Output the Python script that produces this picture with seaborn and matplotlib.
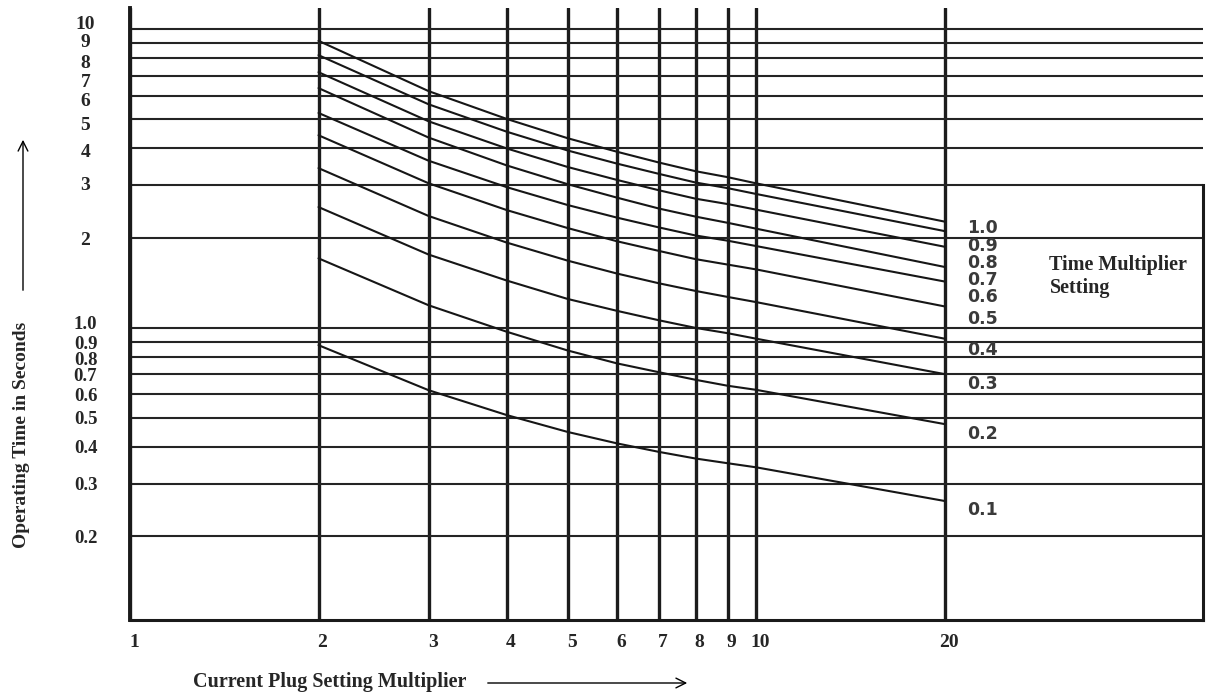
import matplotlib
matplotlib.use("Agg")
import matplotlib.pyplot as plt
import matplotlib.transforms as mtransforms
from matplotlib.ticker import NullLocator
import pandas as pd
import seaborn as sns

# plug setting multiplier where the curves were read (the vertical rulings)
psm = [2, 3, 4, 5, 6, 7, 8, 9, 10, 20]

# operating time in seconds for each time multiplier setting
tms_1_0 = [9.16, 6.21, 5.01, 4.32, 3.89, 3.58, 3.35, 3.20, 3.05, 2.27]
tms_0_9 = [8.20, 5.61, 4.54, 3.93, 3.55, 3.28, 3.07, 2.94, 2.81, 2.11]
tms_0_8 = [7.19, 4.92, 3.99, 3.46, 3.13, 2.89, 2.71, 2.60, 2.49, 1.87]
tms_0_7 = [6.36, 4.34, 3.50, 3.03, 2.73, 2.51, 2.36, 2.25, 2.15, 1.60]
tms_0_6 = [5.25, 3.63, 2.96, 2.58, 2.34, 2.17, 2.04, 1.96, 1.88, 1.43]
tms_0_5 = [4.42, 3.05, 2.48, 2.16, 1.95, 1.81, 1.70, 1.63, 1.57, 1.18]
tms_0_4 = [3.43, 2.37, 1.93, 1.68, 1.52, 1.41, 1.33, 1.27, 1.22, 0.92]
tms_0_3 = [2.54, 1.76, 1.44, 1.25, 1.14, 1.06, 1.00, 0.96, 0.92, 0.70]
tms_0_2 = [1.71, 1.19, 0.97, 0.84, 0.76, 0.71, 0.67, 0.64, 0.62, 0.476]
tms_0_1 = [0.875, 0.618, 0.51, 0.448, 0.41, 0.384, 0.365, 0.352, 0.341, 0.263]

tms_names = ["1.0", "0.9", "0.8", "0.7", "0.6", "0.5", "0.4", "0.3", "0.2", "0.1"]
tms_series = [tms_1_0, tms_0_9, tms_0_8, tms_0_7, tms_0_6,
              tms_0_5, tms_0_4, tms_0_3, tms_0_2, tms_0_1]

x_ticks = [1, 2, 3, 4, 5, 6, 7, 8, 9, 10, 20]
x_tick_labels = ["1", "2", "3", "4", "5", "6", "7", "8", "9", "10", "20"]
y_ticks = [0.2, 0.3, 0.4, 0.5, 0.6, 0.7, 0.8, 0.9, 1, 2, 3, 4, 5, 6, 7, 8, 9, 10]
y_tick_labels = ["0.2", "0.3", "0.4", "0.5", "0.6", "0.7", "0.8", "0.9", "1.0",
                 "2", "3", "4", "5", "6", "7", "8", "9", "10"]

# small vertical nudges (pixels, + is up) so the crowded labels spread like the original
y_label_nudge = {"10": 7, "9": 3, "8": -3, "7": -5, "6": -4, "5": -4, "4": -2,
                 "3": 2, "1.0": 5, "0.9": -1, "0.8": -2, "0.7": 0}

# where the curve names sit, to the right of the 20 ruling
label_y = [2.16, 1.88, 1.65, 1.445, 1.267, 1.07, 0.84, 0.65, 0.44, 0.245]


def build_frame():
    rows = []
    for name, times in zip(tms_names, tms_series):
        for x, t in zip(psm, times):
            rows.append({"psm": x, "time": t, "tms": name})
    return pd.DataFrame(rows)


def main():
    sns.set_style("white")
    plt.rcParams["font.family"] = ["Liberation Serif", "DejaVu Serif"]

    df = build_frame()

    fig = plt.figure(figsize=(12.06, 6.96), dpi=100)
    ax = fig.add_axes([130 / 1206, 1 - 620 / 696, (1203 - 130) / 1206, (620 - 8) / 696])

    sns.lineplot(data=df, x="psm", y="time", hue="tms", hue_order=tms_names,
                 palette=["#161616"] * len(tms_names), estimator=None,
                 legend=False, lw=1.5, ax=ax)

    ax.set_xscale("log")
    ax.set_yscale("log")
    ax.set_xlim(1, 51.7)
    ax.set_ylim(0.105, 11.8)

    ax.set_xticks(x_ticks, x_tick_labels)
    ax.set_yticks(y_ticks, y_tick_labels)
    ax.xaxis.set_minor_locator(NullLocator())
    ax.yaxis.set_minor_locator(NullLocator())

    ax.set_axisbelow(True)
    ax.grid(axis="x", color="#1c1c1c", lw=2.4)
    ax.grid(axis="y", color="#242424", lw=1.5)

    ax.tick_params(axis="x", length=0, pad=10, labelsize=14)
    ax.tick_params(axis="y", length=0, pad=32, labelsize=14)
    offset = mtransforms.ScaledTranslation(0.04, 0, fig.dpi_scale_trans)
    for lbl in ax.get_xticklabels():
        lbl.set_fontweight("bold")
        lbl.set_transform(lbl.get_transform() + offset)
    for lbl in ax.get_yticklabels():
        lbl.set_fontweight("bold")
        lbl.set_horizontalalignment("center")
        txt = lbl.get_text()
        if "." in txt:
            lbl.set_fontsize(13.5)
        dy = y_label_nudge.get(txt, 0)
        if dy:
            lbl.set_transform(lbl.get_transform()
                              + mtransforms.ScaledTranslation(0, dy / 100, fig.dpi_scale_trans))

    ax.set_xlabel("")
    ax.set_ylabel("")

    ax.spines["top"].set_visible(False)
    ax.spines["left"].set_linewidth(2.8)
    ax.spines["bottom"].set_linewidth(2.2)
    ax.spines["right"].set_linewidth(2.2)
    ax.spines["right"].set_bounds(0.105, 3)
    for s in ["left", "bottom", "right"]:
        ax.spines[s].set_color("#1a1a1a")

    # curve names
    for name, y in zip(tms_names, label_y):
        ax.text(21.7, y, name, ha="left", va="center", fontsize=12.5,
                fontweight="bold", color="#3a3a3a", family="DejaVu Sans")

    ax.text(29.4, 1.49, "Time Multiplier\nSetting", ha="left", va="center",
            fontsize=14.5, fontweight="bold", linespacing=1.2)

    # axis titles with hand drawn arrows
    fig.text(193 / 1206, 1 - 682 / 696, "Current Plug Setting Multiplier",
             ha="left", va="center", fontsize=14.5, fontweight="bold")
    fig.text(22 / 1206, 1 - 435 / 696, "Operating Time in Seconds", rotation=90,
             ha="center", va="center", fontsize=14, fontweight="bold")

    arrow = dict(arrowstyle="->,head_length=0.7,head_width=0.35", lw=1.0, color="black")
    ax.annotate("", xy=(690 / 1206, 1 - 683 / 696), xytext=(485 / 1206, 1 - 683 / 696),
                xycoords="figure fraction", textcoords="figure fraction",
                arrowprops=arrow, annotation_clip=False)
    ax.annotate("", xy=(23 / 1206, 1 - 137 / 696), xytext=(23 / 1206, 1 - 293 / 696),
                xycoords="figure fraction", textcoords="figure fraction",
                arrowprops=arrow, annotation_clip=False)

    fig.savefig("out.png", dpi=100)
    plt.close(fig)


if __name__ == "__main__":
    main()
